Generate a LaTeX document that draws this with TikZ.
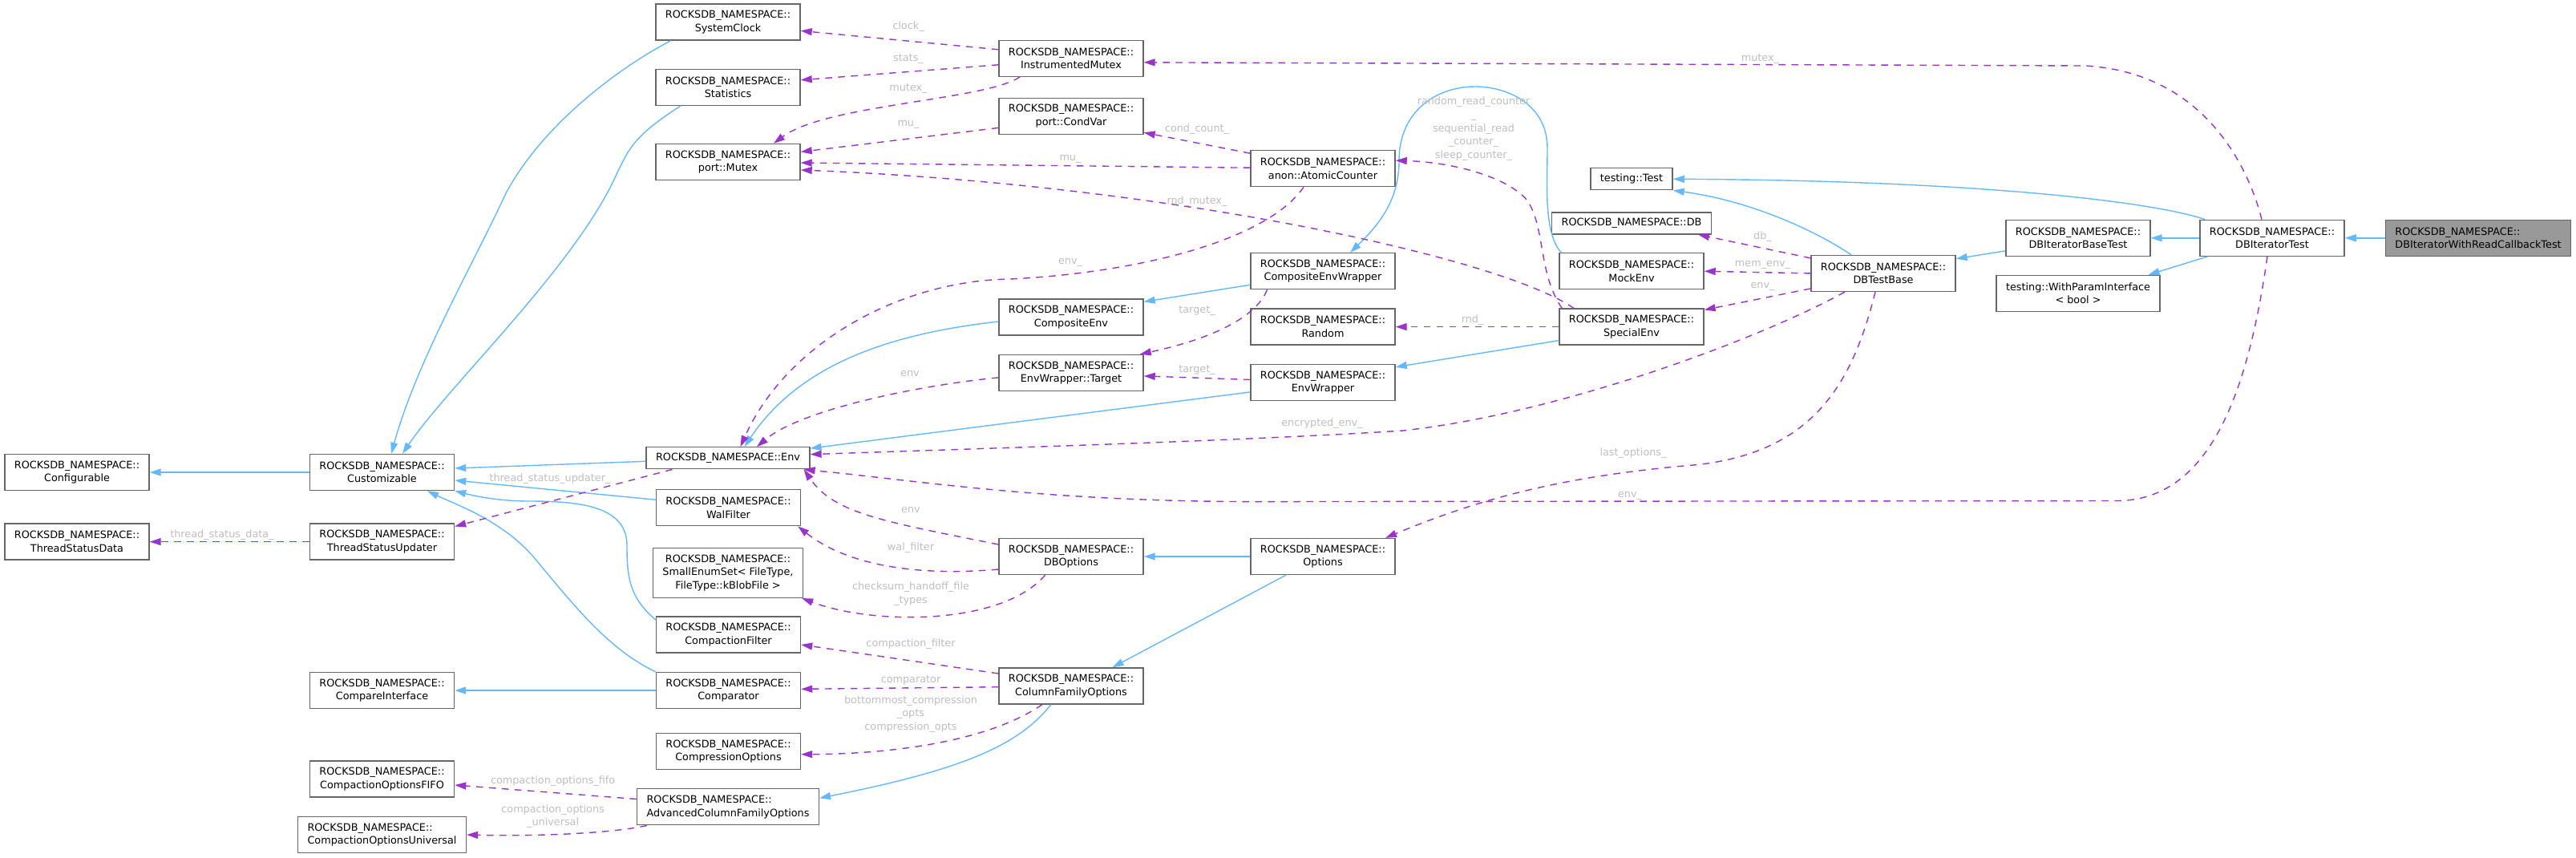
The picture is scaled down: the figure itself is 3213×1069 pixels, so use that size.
\documentclass[tikz,border=0pt]{standalone}
\usepackage{fontspec}
\setmainfont{DejaVu Sans}
\usepackage{tikz}
\usetikzlibrary{arrows.meta}
\definecolor{inhblue}{RGB}{99,184,255}
\definecolor{usepurple}{RGB}{154,50,205}
\definecolor{boxgray}{RGB}{102,102,102}
\definecolor{fillgray}{RGB}{153,153,153}
\definecolor{lblgray}{RGB}{190,190,190}
\begin{document}
\begin{tikzpicture}[
  x=1pt, y=-1pt,
  every node/.style={font=\fontsize{12.8}{16.6}\selectfont},
  cls/.style={draw=boxgray, line width=1.3pt, fill=white, align=center,
    inner xsep=12pt, inner ysep=4pt, minimum height=45pt},
  cls1/.style={cls, minimum height=27pt},
  inh/.style={draw=inhblue, line width=1.4pt, -{Triangle[length=14pt,width=9pt]}},
  use/.style={draw=usepurple, line width=1.4pt, dash pattern=on 8.5pt off 7.5pt,
    -{Triangle[length=14pt,width=9pt]}},
  lbl/.style={text=lblgray, inner sep=0pt, align=center}
]
\useasboundingbox (0,0) rectangle (3213,1069);

\node[cls] (Cfg) at (96,589) {ROCKSDB\_NAMESPACE::\\Configurable};
\node[cls] (Cust) at (476.5,589) {ROCKSDB\_NAMESPACE::\\Customizable};
\node[cls] (TSD) at (96,675.6) {ROCKSDB\_NAMESPACE::\\ThreadStatusData};
\node[cls] (TSU) at (476.5,675.6) {ROCKSDB\_NAMESPACE::\\ThreadStatusUpdater};
\node[cls] (CmpI) at (476.5,861) {ROCKSDB\_NAMESPACE::\\CompareInterface};
\node[cls] (FIFO) at (476.5,971.5) {ROCKSDB\_NAMESPACE::\\CompactionOptionsFIFO};
\node[cls, align=left] (Univ) at (476.5,1041) {ROCKSDB\_NAMESPACE::\\CompactionOptionsUniversal};
\node[cls] (Clock) at (908,27.4) {ROCKSDB\_NAMESPACE::\\SystemClock};
\node[cls] (Stats) at (908,108.8) {ROCKSDB\_NAMESPACE::\\Statistics};
\node[cls] (Mutex) at (908,202) {ROCKSDB\_NAMESPACE::\\port::Mutex};
\node[cls1] (Env) at (908,571.3) {ROCKSDB\_NAMESPACE::Env};
\node[cls] (Wal) at (908.5,633.2) {ROCKSDB\_NAMESPACE::\\WalFilter};
\node[cls, minimum height=62pt] (Enum) at (908,714.4)
  {ROCKSDB\_NAMESPACE::\\SmallEnumSet< FileType,\\FileType::kBlobFile >};
\node[cls] (CFilt) at (908.5,791.5) {ROCKSDB\_NAMESPACE::\\CompactionFilter};
\node[cls] (Cmp) at (908.5,861) {ROCKSDB\_NAMESPACE::\\Comparator};
\node[cls] (Comp) at (908.5,936.9) {ROCKSDB\_NAMESPACE::\\CompressionOptions};
\node[cls, align=left] (ACFO) at (908,1006.3) {ROCKSDB\_NAMESPACE::\\AdvancedColumnFamilyOptions};
\node[cls] (IMutex) at (1336,72.8) {ROCKSDB\_NAMESPACE::\\InstrumentedMutex};
\node[cls] (CondVar) at (1336,144.8) {ROCKSDB\_NAMESPACE::\\port::CondVar};
\node[cls] (CEnv) at (1336,395.5) {ROCKSDB\_NAMESPACE::\\CompositeEnv};
\node[cls] (Target) at (1336,464.9) {ROCKSDB\_NAMESPACE::\\EnvWrapper::Target};
\node[cls] (DBOpt) at (1336,694) {ROCKSDB\_NAMESPACE::\\DBOptions};
\node[cls] (CFO) at (1336,855.4) {ROCKSDB\_NAMESPACE::\\ColumnFamilyOptions};
\node[cls] (Counter) at (1650,210.2) {ROCKSDB\_NAMESPACE::\\anon::AtomicCounter};
\node[cls] (CEW) at (1650,338.2) {ROCKSDB\_NAMESPACE::\\CompositeEnvWrapper};
\node[cls] (Rand) at (1650,407.6) {ROCKSDB\_NAMESPACE::\\Random};
\node[cls] (EW) at (1650,476.9) {ROCKSDB\_NAMESPACE::\\EnvWrapper};
\node[cls] (Opt) at (1650,694) {ROCKSDB\_NAMESPACE::\\Options};
\node[cls1] (Test) at (2035,223.3) {testing::Test};
\node[cls1] (DB) at (2035,278.4) {ROCKSDB\_NAMESPACE::DB};
\node[cls] (Mock) at (2035,338.2) {ROCKSDB\_NAMESPACE::\\MockEnv};
\node[cls] (Special) at (2035,407.6) {ROCKSDB\_NAMESPACE::\\SpecialEnv};
\node[cls] (TestBase) at (2349,340.9) {ROCKSDB\_NAMESPACE::\\DBTestBase};
\node[cls] (BaseTest) at (2592,296.8) {ROCKSDB\_NAMESPACE::\\DBIteratorBaseTest};
\node[cls] (WithParam) at (2592,365.9) {testing::WithParamInterface\\< bool >};
\node[cls] (IterTest) at (2834,296.8) {ROCKSDB\_NAMESPACE::\\DBIteratorTest};
\node[cls, fill=fillgray, align=left] (CbTest) at (3091,296.8)
  {ROCKSDB\_NAMESPACE::\\DBIteratorWithReadCallbackTest};

\draw[inh] (Cust) -- (Cfg);
\draw[inh] ([xshift=-71pt]Clock.south) .. controls (780,80) and (680,150) .. (631,241)
  .. controls (590,330) and (520,450) .. ([xshift=11.5pt]Cust.north);
\draw[inh] ([xshift=-59pt]Stats.south) .. controls (790,170) and (785,185) .. (770,215)
  .. controls (720,330) and (560,480) .. ([xshift=25.5pt]Cust.north);
\draw[inh] ([yshift=-4pt]Env.west) -- ([yshift=5pt]Cust.east);
\draw[inh] ([yshift=10pt]Wal.west) -- ([yshift=-10pt]Cust.east);
\draw[inh] ([yshift=18.5pt]CFilt.west) .. controls (785,745) and (782,720) .. (782,680)
  .. controls (782,630) and (720,625) .. (660,625)
  .. controls (620,625) and (590,618) .. (Cust.south east);
\draw[inh] (Cmp.north west) .. controls (760,810) and (720,760) .. (670,700)
  .. controls (630,650) and (570,630) .. ([xshift=56.5pt]Cust.south);
\draw[inh] (Cmp) -- (CmpI);
\draw[inh] ([yshift=-5.5pt]CEnv.west) .. controls (1120,415) and (1000,450) .. ([xshift=20.5pt]Env.north);
\draw[inh] ([yshift=-12pt]EW.west) -- ([yshift=-2pt]Env.north east);
\draw[inh] ([yshift=-17pt]CEW.west) -- ([yshift=-4pt]CEnv.north east);
\draw[inh] ([xshift=3pt]Mock.north west) .. controls (1925,290) and (1930,230) .. (1930,185)
  .. controls (1930,130) and (1880,108) .. (1840,108)
  .. controls (1790,108) and (1745,140) .. (1745,200)
  .. controls (1745,250) and (1720,280) .. ([xshift=34pt]CEW.north);
\draw[inh] ([yshift=-17pt]Special.west) -- ([yshift=-4pt]EW.north east);
\draw[inh] (Opt) -- (DBOpt);
\draw[inh] ([xshift=-46pt]Opt.south) -- ([xshift=51.5pt]CFO.north);
\draw[inh] ([xshift=-25pt]CFO.south) .. controls (1270,930) and (1200,960) .. ([yshift=11pt]ACFO.east);
\draw[inh] ([xshift=-40pt]TestBase.north) .. controls (2260,285) and (2180,250) .. (Test.south east);
\draw[inh] ([xshift=7pt]IterTest.north west) .. controls (2680,250) and (2450,225) .. (Test.east);
\draw[inh] ([yshift=-16pt]BaseTest.west) -- ([yshift=-5pt]TestBase.north east);
\draw[inh] (IterTest) -- (BaseTest);
\draw[inh] ([xshift=10pt]IterTest.south west) -- ([xshift=-15pt]WithParam.north east);
\draw[inh] (CbTest) -- (IterTest);

\draw[use] ([yshift=11pt]IMutex.west) -- ([yshift=-11pt]Clock.east)
  node[lbl] (lClock) at (1133,33.4) {clock\_};
\draw[use] ([yshift=-8pt]IMutex.west) -- ([yshift=9pt]Stats.east)
  node[lbl] (lStats) at (1133,73.7) {stats\_};
\draw[use] ([xshift=-64pt]IMutex.south) .. controls (1230,125) and (1030,130) .. ([xshift=57pt]Mutex.north)
  node[lbl] (lMutexA) at (1133,110.9) {mutex\_};
\draw[use] ([yshift=-14.6pt]CondVar.west) -- ([yshift=12.6pt]Mutex.east)
  node[lbl] (lMuA) at (1133,155) {mu\_};
\draw[use] ([yshift=1pt]Counter.west) -- ([yshift=-1pt]Mutex.east)
  node[lbl] (lMuB) at (1335,198) {mu\_};
\draw[use] ([yshift=19pt]Counter.west) -- ([yshift=-20.5pt]CondVar.east)
  node[lbl] (lCond) at (1493,161) {cond\_count\_};
\draw[use] ([xshift=-72pt]Special.north) .. controls (1870,320) and (1450,230) .. ([yshift=-10pt]Mutex.east)
  node[lbl] (lRndMutex) at (1493,251.4) {rnd\_mutex\_};
\draw[use] ([xshift=-24pt]Counter.south) .. controls (1580,300) and (1420,340) .. (1260,348)
  .. controls (1120,350) and (980,430) .. ([xshift=15.5pt]Env.north)
  node[lbl] (lEnvA) at (1335,327.8) {env\_};
\draw[use] ([xshift=-69.5pt]CEW.south) .. controls (1565,400) and (1500,425) .. ([xshift=-5pt]Target.north east)
  node[lbl] (lTargetA) at (1493,388) {target\_};
\draw[use] ([yshift=3.4pt]EW.west) -- ([yshift=-4pt]Target.east)
  node[lbl] (lTargetB) at (1493,461.4) {target\_};
\draw[use] ([yshift=-6pt]Target.west) .. controls (1150,480) and (1000,510) .. ([xshift=36pt]Env.north)
  node[lbl] (lEnvB) at (1135,465.6) {env};
\draw[use] ([yshift=15pt]DBOpt.west) .. controls (1100,650) and (1040,640) .. ([xshift=-8pt]Env.south east)
  node[lbl] (lEnvC) at (1136,636) {env};
\draw[use] ([yshift=-16pt]DBOpt.west) .. controls (1130,720) and (1050,700) .. ([xshift=-4pt]Wal.south east)
  node[lbl] (lWal) at (1136,683.3) {wal\_filter};
\draw[use] ([xshift=-32.4pt]DBOpt.south) .. controls (1250,780) and (1090,780) .. ([xshift=-2pt]Enum.south east)
  node[lbl] (lCksum) at (1136,740.5) {checksum\_handoff\_file\\\_types};
\draw[use] ([yshift=15.4pt]CFO.west) -- ([yshift=-12.5pt]CFilt.east)
  node[lbl] (lCFilt) at (1136,803) {compaction\_filter};
\draw[use] ([yshift=-1.3pt]CFO.west) -- ([yshift=1.7pt]Cmp.east)
  node[lbl] (lCmp) at (1136,848.3) {comparator};
\draw[use] ([xshift=-36pt]CFO.south) .. controls (1240,920) and (1130,940) .. ([yshift=-3.8pt]Comp.east)
  node[lbl] (lCompOpts) at (1136,890.4) {bottommost\_compression\\\_opts\\compression\_opts};
\draw[use] ([xshift=-69.5pt]Env.south) -- ([yshift=-4pt]TSU.north east)
  node[lbl] (lTSU) at (686,597.4) {thread\_status\_updater\_};
\draw[use] (TSU) -- (TSD)
  node[lbl] (lTSD) at (277,666.8) {thread\_status\_data\_};
\draw[use] ([yshift=9.8pt]ACFO.west) -- ([yshift=-7.5pt]FIFO.east)
  node[lbl] (lFIFO) at (689.6,974) {compaction\_options\_fifo};
\draw[use] ([xshift=13pt]ACFO.south west) .. controls (760,1040) and (660,1043) .. (Univ.east)
  node[lbl] (lUniv) at (689.6,1018) {compaction\_options\\\_universal};
\draw[use] ([xshift=-13pt]IterTest.north) .. controls (2805,210) and (2750,90) .. (2600,82)
  -- ([yshift=-5pt]IMutex.east)
  node[lbl] (lMutexB) at (2195.4,73.7) {mutex\_};
\draw[use] ([xshift=-6pt]IterTest.south) .. controls (2805,480) and (2760,624.5) .. (2640,624.5)
  -- (1560,625.6) .. controls (1300,625) and (1150,600) .. ([xshift=-8pt]Env.south east)
  node[lbl] (lEnvD) at (2033,618) {env\_};
\draw[use] ([xshift=-10pt]TestBase.south) .. controls (2310,480) and (2260,570) .. (2100,581)
  .. controls (1950,595) and (1850,620) .. ([xshift=78pt]Opt.north)
  node[lbl] (lLast) at (2037,565) {last\_options\_};
\draw[use] ([xshift=-48pt]TestBase.south) .. controls (2200,420) and (1950,515) .. (1750,537)
  .. controls (1550,550) and (1200,560) .. ([yshift=4.6pt]Env.east)
  node[lbl] (lEncrypted) at (1649,528.6) {encrypted\_env\_};
\draw[use] ([yshift=19pt]TestBase.west) -- ([xshift=-17pt]DB.south east)
  node[lbl] (lDB) at (2198.5,295) {db\_};
\draw[use] (TestBase.west) -- (Mock.east)
  node[lbl] (lMemEnv) at (2198.5,330.7) {mem\_env\_};
\draw[use] ([yshift=-19pt]TestBase.west) -- ([yshift=-2pt]Special.north east)
  node[lbl] (lEnvE) at (2198.5,357.7) {env\_};
\draw[use] (Special) -- (Rand)
  node[lbl] (lRnd) at (1836.6,398.8) {rnd\_};
\draw[use] ([xshift=4pt]Special.north west) .. controls (1918,340) and (1928,285) .. (1905,250)
  .. controls (1880,220) and (1810,202) .. ([yshift=10pt]Counter.east)
  node[lbl] (lCounters) at (1838,160.8)
  {random\_read\_counter\\\_\\sequential\_read\\\_counter\_\\sleep\_counter\_};
\end{tikzpicture}
\end{document}
